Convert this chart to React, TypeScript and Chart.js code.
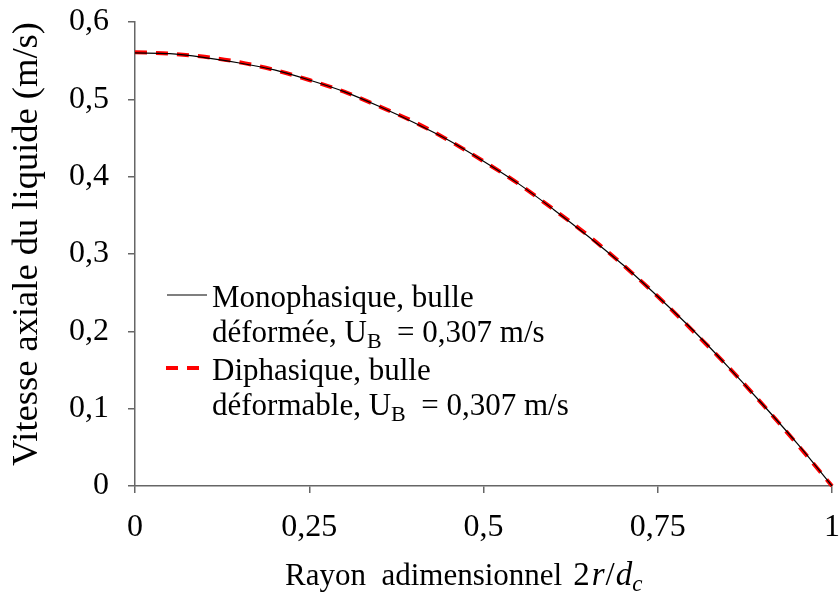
import React, { useEffect, useRef } from "react";
import { Chart, registerables } from "chart.js";

Chart.register(...registerables);

// Rayon adimensionnel 2r/dc
const radius = [0, 0.05, 0.1, 0.15, 0.2, 0.25, 0.3, 0.35, 0.4, 0.45, 0.5, 0.55, 0.6, 0.65, 0.7, 0.75, 0.8, 0.85, 0.9, 0.95, 1];
// Monophasique, bulle déformée
const monophasique = [0.560, 0.559, 0.554, 0.547, 0.538, 0.525, 0.510, 0.491, 0.470, 0.447, 0.420, 0.391, 0.358, 0.323, 0.286, 0.245, 0.202, 0.155, 0.106, 0.055, 0];
// Diphasique, bulle déformable
const diphasique = [0.561, 0.559, 0.555, 0.548, 0.538, 0.525, 0.510, 0.491, 0.471, 0.447, 0.420, 0.391, 0.358, 0.324, 0.286, 0.245, 0.201, 0.155, 0.106, 0.054, 0];

const xTicks = [0, 0.25, 0.5, 0.75, 1];
const yTicks = [0, 0.1, 0.2, 0.3, 0.4, 0.5, 0.6];

const FONT = '"Liberation Serif", "Times New Roman", serif';
const fmt = (v: number) => String(Math.round(v * 100) / 100).replace(".", ",");

type Run = { t: string; font: string; dy?: number; dx?: number };
function drawRuns(ctx: CanvasRenderingContext2D, x: number, y: number, runs: Run[]) {
  let cx = x;
  for (const r of runs) {
    cx += r.dx || 0;
    ctx.font = r.font;
    ctx.fillText(r.t, cx, y + (r.dy || 0));
    cx += ctx.measureText(r.t).width;
  }
  return cx;
}

const textPlugin = {
  id: "customText",
  afterDraw(chart: any) {
    const ctx: CanvasRenderingContext2D = chart.ctx;
    ctx.save();
    ctx.fillStyle = "#000";
    ctx.textAlign = "left";
    ctx.textBaseline = "alphabetic";
    const n = `31px ${FONT}`;
    const sub = `22px ${FONT}`;
    // legend samples
    ctx.strokeStyle = "#000";
    ctx.lineWidth = 1.2;
    ctx.setLineDash([]);
    ctx.beginPath();
    ctx.moveTo(167, 295);
    ctx.lineTo(207, 295);
    ctx.stroke();
    ctx.strokeStyle = "#ff0000";
    ctx.lineWidth = 4;
    ctx.setLineDash([12, 9]);
    ctx.beginPath();
    ctx.moveTo(166, 368);
    ctx.lineTo(208, 368);
    ctx.stroke();
    ctx.setLineDash([]);
    // legend text
    drawRuns(ctx, 212, 307, [{ t: "Monophasique, bulle", font: n }]);
    drawRuns(ctx, 212, 342, [
      { t: "déformée, U", font: n },
      { t: "B", font: sub, dy: 6 },
      { t: "  = 0,307 m/s", font: n },
    ]);
    drawRuns(ctx, 212, 380, [{ t: "Diphasique, bulle", font: n }]);
    drawRuns(ctx, 212, 415, [
      { t: "déformable, U", font: n },
      { t: "B", font: sub, dy: 6 },
      { t: "  = 0,307 m/s", font: n },
    ]);
    // x title
    const big = `33px ${FONT}`;
    const it = `italic 33px ${FONT}`;
    drawRuns(ctx, 285, 585, [
      { t: "Rayon  adimensionnel", font: n },
      { t: "2", font: big, dx: 11 },
      { t: "r", font: it, dx: 2 },
      { t: "/", font: big, dx: 1 },
      { t: "d", font: it, dx: 1 },
      { t: "c", font: `italic 23px ${FONT}`, dy: 6 },
    ]);
    // y title
    ctx.translate(37, 244);
    ctx.rotate(-Math.PI / 2);
    ctx.textAlign = "center";
    ctx.font = `36.5px ${FONT}`;
    ctx.fillText("Vitesse axiale du liquide (m/s)", 0, 0);
    ctx.restore();
  },
};

const zeroPad = (s: any) => {
  s.paddingLeft = 0;
  s.paddingRight = 0;
  s.paddingTop = 0;
  s.paddingBottom = 0;
};

export default function App() {
  const ref = useRef<HTMLCanvasElement>(null);
  useEffect(() => {
    const canvas = ref.current!;
    const axisColor = "#666666";
    const chart = new Chart(canvas, {
      type: "line",
      data: {
        datasets: [
          {
            label: "Monophasique, bulle déformée",
            data: radius.map((x, i) => ({ x, y: monophasique[i] })),
            borderColor: "#000000",
            borderWidth: 1.2,
            pointRadius: 0,
            cubicInterpolationMode: "monotone",
            clip: 4,
          },
          {
            label: "Diphasique, bulle déformable",
            data: radius.map((x, i) => ({ x, y: diphasique[i] })),
            borderColor: "#ff0000",
            borderWidth: 4,
            borderDash: [12, 9],
            pointRadius: 0,
            cubicInterpolationMode: "monotone",
            clip: 4,
          },
        ],
      },
      options: {
        responsive: false,
        animation: false,
        devicePixelRatio: 1,
        layout: { padding: { top: 22, right: 7, left: 0, bottom: 0 } },
        plugins: { legend: { display: false }, tooltip: { enabled: false } },
        scales: {
          x: {
            type: "linear",
            min: 0,
            max: 1,
            afterFit: (s: any) => { s.height = 111; zeroPad(s); },
            afterBuildTicks: (s: any) => { s.ticks = xTicks.map((v) => ({ value: v })); },
            grid: { drawOnChartArea: false, drawTicks: true, tickLength: 7, color: axisColor, lineWidth: 1.5 },
            border: { color: axisColor, width: 1.5 },
            ticks: {
              color: "#000",
              font: { family: FONT, size: 32 },
              padding: 15,
              maxRotation: 0,
              callback: (v: any) => fmt(Number(v)),
            },
          },
          y: {
            type: "linear",
            min: 0,
            max: 0.6,
            afterFit: (s: any) => { s.width = 135; zeroPad(s); },
            afterBuildTicks: (s: any) => { s.ticks = yTicks.map((v) => ({ value: v })); },
            grid: { drawOnChartArea: false, drawTicks: true, tickLength: 7, color: axisColor, lineWidth: 1.5 },
            border: { color: axisColor, width: 1.5 },
            ticks: {
              color: "#000",
              font: { family: FONT, size: 32 },
              padding: 19,
              callback: (v: any) => fmt(Number(v)),
            },
          },
        },
      },
      plugins: [textPlugin],
    } as any);
    return () => chart.destroy();
  }, []);
  return (
    <div style={{ position: "absolute", left: 0, top: 0, width: 839, height: 597, background: "#fff" }}>
      <canvas ref={ref} width={839} height={597} style={{ display: "block" }} />
    </div>
  );
}
